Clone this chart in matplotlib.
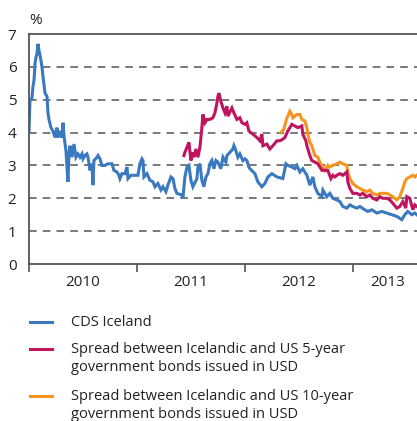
import numpy as np
import matplotlib
matplotlib.use('Agg')
import matplotlib.pyplot as plt
from matplotlib.lines import Line2D

plt.rcParams['font.family'] = ['Open Sans', 'DejaVu Sans']

# x: months since 1 Jan 2010, y: %
cds_month = [0, 0.11, 0.33, 0.44, 0.56, 0.67, 0.78, 0.89, 1.0, 1.11, 1.33, 1.44, 1.56, 1.78,
             2.0, 2.11, 2.22, 2.44, 2.67, 2.89, 3.11, 3.22, 3.44, 3.67, 3.78, 3.89, 4.11, 4.22,
             4.33, 4.44, 4.56, 4.78, 4.89, 5.0, 5.22, 5.44, 5.67, 5.89, 6.0, 6.22, 6.44, 6.56,
             6.78, 7.0, 7.11, 7.22, 7.56, 7.67, 7.89, 8.11, 8.44, 8.78, 9.22, 9.44, 9.78, 10.0,
             10.11, 10.33, 10.67, 10.89, 11.0, 11.33, 11.78, 12.11, 12.33, 12.56, 12.67, 12.78,
             13.11, 13.44, 13.78, 14.0, 14.33, 14.67, 14.89, 15.22, 15.44, 15.78, 16.0, 16.22,
             16.44, 17.0, 17.11, 17.33, 17.56, 17.78, 18.0, 18.22, 18.67, 18.78, 19.0, 19.22,
             19.44, 19.67, 19.89, 20.11, 20.33, 20.56, 20.78, 21.0, 21.33, 21.56, 21.89, 22.0,
             22.33, 22.67, 22.78, 23.0, 23.22, 23.44, 23.78, 24.0, 24.22, 24.44, 24.56, 25.11,
             25.44, 25.89, 26.22, 26.56, 27.0, 27.56, 28.22, 28.56, 28.78, 29.22, 29.56, 29.78,
             30.11, 30.44, 30.89, 31.22, 31.56, 31.78, 32.11, 32.56, 32.67, 33.11, 33.44, 33.78,
             34.22, 34.56, 34.89, 35.33, 35.67, 36.0, 36.44, 36.78, 37.33, 37.67, 38.11, 38.67,
             39.22, 39.78, 40.33, 40.89, 41.44, 41.78, 42.11, 42.56, 42.89, 43.11]
cds_value = [4.05, 5.0, 5.05, 5.4, 5.6, 6.1, 6.3, 6.4, 6.7, 6.5, 6.2, 6.0, 5.7, 5.2,
             5.1, 4.6, 4.4, 4.15, 4.05, 3.85, 4.15, 3.85, 4.05, 3.85, 4.3, 3.9, 3.45, 2.95,
             2.5, 3.35, 3.6, 3.25, 3.45, 3.65, 3.25, 3.35, 3.25, 3.35, 3.2, 3.3, 3.35, 3.25,
             2.85, 3.05, 2.4, 3.15, 3.25, 3.3, 3.2, 3.0, 3.0, 3.05, 3.05, 2.85, 2.8, 2.7,
             2.6, 2.75, 2.75, 2.95, 2.6, 2.7, 2.7, 2.7, 3.05, 3.2, 3.15, 2.65,
             2.75, 2.55, 2.5, 2.35, 2.45, 2.25, 2.35, 2.2, 2.4, 2.65, 2.6, 2.3,
             2.15, 2.1, 2.0, 2.65, 2.95, 3.0, 2.55, 2.35, 2.6, 2.95, 3.05, 2.55,
             2.35, 2.65, 2.75, 3.05, 3.15, 2.9, 3.15, 3.1, 2.9, 3.25, 3.1, 3.3,
             3.4, 3.5, 3.6, 3.45, 3.25, 3.35, 3.15, 3.2, 3.15, 2.95, 2.9, 2.75,
             2.5, 2.35, 2.45, 2.65, 2.75, 2.65, 2.6, 3.05, 3.0, 2.95, 2.9, 3.0,
             2.8, 2.9, 2.7, 2.4, 2.65, 2.35, 2.15, 2.05, 2.25, 2.05, 2.15, 2.0,
             1.95, 1.9, 1.75, 1.7, 1.8, 1.75, 1.7, 1.75, 1.65, 1.6, 1.65, 1.55,
             1.6, 1.55, 1.5, 1.45, 1.35, 1.5, 1.6, 1.5, 1.55, 1.5]

spread5_month = [17.22, 17.33, 17.56, 17.78, 18.0, 18.22, 18.33, 18.56, 18.78, 19.0, 19.22,
                 19.33, 19.56, 19.78, 20.11, 20.44, 20.67, 20.89, 21.0, 21.11, 21.33, 21.56,
                 21.78, 22.0, 22.11, 22.56, 22.78, 23.11, 23.44, 23.67, 24.0, 24.22, 24.44,
                 24.89, 25.33, 25.67, 25.89, 26.0, 26.44, 26.78, 27.11, 27.56, 27.89, 28.22,
                 28.44, 28.78, 29.0, 29.22, 29.56, 29.89, 30.33, 30.44, 30.78, 30.89, 31.0,
                 31.22, 31.44, 31.78, 32.11, 32.56, 32.89, 33.22, 33.56, 33.78, 34.0, 34.22,
                 34.56, 34.89, 35.33, 35.44, 35.67, 36.0, 36.44, 36.78, 37.11, 37.56, 37.89,
                 38.22, 38.67, 39.0, 39.33, 39.78, 40.11, 40.44, 40.89, 41.22, 41.56, 41.89,
                 42.0, 42.33, 42.67, 42.89, 43.11]
spread5_value = [3.3, 3.4, 3.55, 3.7, 3.15, 3.4, 3.25, 3.5, 3.25, 3.55, 4.15,
                 4.55, 4.3, 4.4, 4.4, 4.45, 4.6, 4.9, 5.1, 5.2, 4.95, 4.75,
                 4.6, 4.8, 4.5, 4.75, 4.6, 4.4, 4.45, 4.3, 4.25, 4.3, 4.05,
                 3.95, 3.85, 3.75, 3.95, 3.6, 3.65, 3.5, 3.6, 3.75, 3.75, 3.8,
                 3.85, 4.05, 4.15, 4.25, 4.2, 4.15, 4.2, 3.95, 3.75, 3.6, 3.5,
                 3.3, 3.15, 3.1, 3.05, 2.85, 2.85, 2.85, 2.6, 2.7, 2.65, 2.7,
                 2.75, 2.7, 2.8, 2.5, 2.3, 2.15, 2.15, 2.1, 2.15, 2.05, 2.1,
                 2.0, 1.95, 2.05, 2.0, 2.0, 1.95, 1.85, 1.7, 1.75, 1.9, 1.7,
                 2.05, 2.0, 1.65, 1.8, 1.75]

spread10_month = [28.0, 28.33, 28.67, 28.78, 29.0, 29.22, 29.33, 29.56, 29.78, 30.11, 30.33,
                  30.67, 30.89, 31.0, 31.22, 31.44, 31.56, 31.78, 32.11, 32.33, 32.67, 32.89,
                  33.22, 33.44, 33.78, 34.22, 34.56, 34.89, 35.33, 35.44, 35.67, 36.0, 36.44,
                  36.78, 37.11, 37.56, 37.89, 38.22, 38.67, 39.0, 39.33, 39.78, 40.11, 40.44,
                  40.89, 41.22, 41.56, 41.78, 42.0, 42.33, 42.67, 42.89, 43.11]
spread10_value = [4.0, 4.1, 4.45, 4.5, 4.65, 4.55, 4.45, 4.5, 4.55, 4.55, 4.4,
                  4.35, 4.15, 3.95, 3.7, 3.6, 3.5, 3.3, 3.25, 3.1, 2.95, 2.85,
                  3.0, 2.95, 3.0, 3.05, 3.1, 3.05, 3.0, 2.8, 2.6, 2.45, 2.35,
                  2.3, 2.25, 2.2, 2.25, 2.15, 2.1, 2.15, 2.15, 2.15, 2.1, 2.05,
                  1.95, 2.05, 2.3, 2.5, 2.6, 2.65, 2.7, 2.65, 2.7]

year_labels = ['2010', '2011', '2012', '2013']
year_starts = [0, 12, 24, 36]
x_end = 43.8

legend_labels = ['CDS Iceland',
                 'Spread between Icelandic and US 5-year\ngovernment bonds issued in USD',
                 'Spread between Icelandic and US 10-year\ngovernment bonds issued in USD']
c_blue = '#3a78c0'
c_pink = '#c0145f'
c_orange = '#f7941d'

fig = plt.figure(figsize=(4.17, 4.21), dpi=100)
ax = fig.add_axes([29 / 417, 157 / 421, 394 / 417, 230 / 421])

ax.plot(spread10_month, spread10_value, color=c_orange, lw=2.2, solid_joinstyle='miter')
ax.plot(spread5_month, spread5_value, color=c_pink, lw=2.2, solid_joinstyle='miter')
ax.plot(cds_month, cds_value, color=c_blue, lw=2.2, solid_joinstyle='miter')

ax.set_xlim(0, x_end)
ax.set_ylim(0, 7)
ax.set_yticks(range(8))
for v in range(1, 7):
    ax.axhline(v, color='#555555', lw=1.1, ls=(0, (5, 4)), zorder=0)

ax.set_xticks(year_starts)
ax.set_xticklabels([])
mids = [s + 6 for s in year_starts[:-1]] + [(year_starts[-1] + x_end) / 2]
ax.set_xticks(mids, minor=True)
ax.set_xticklabels(year_labels, minor=True)
ax.tick_params(axis='x', which='major', direction='out', length=6, width=1.2, color='#555555')
ax.tick_params(axis='x', which='minor', length=0, pad=8, labelsize=11, labelcolor='#222222')
ax.tick_params(axis='y', length=0, pad=9, labelsize=11, labelcolor='#222222')

for side in ['left', 'bottom', 'top']:
    ax.spines[side].set_color('#555555')
    ax.spines[side].set_linewidth(1.3)
ax.spines['right'].set_visible(False)

fig.text(29 / 417, 1 - 20 / 421, '%', fontsize=11, color='#222222', va='center', ha='left')

# legend, drawn by hand
leg_y = [322, 349, 396]
for y, lab, col in zip(leg_y, legend_labels, [c_blue, c_pink, c_orange]):
    fy = 1 - y / 421
    fig.add_artist(Line2D([30 / 417, 52 / 417], [fy, fy], color=col, lw=2.2,
                          transform=fig.transFigure))
    fig.text(71 / 417, fy + 7 / 421, lab, fontsize=10.5, color='#222222', va='top',
             ha='left', linespacing=1.25)

fig.savefig('out.png', dpi=100)
